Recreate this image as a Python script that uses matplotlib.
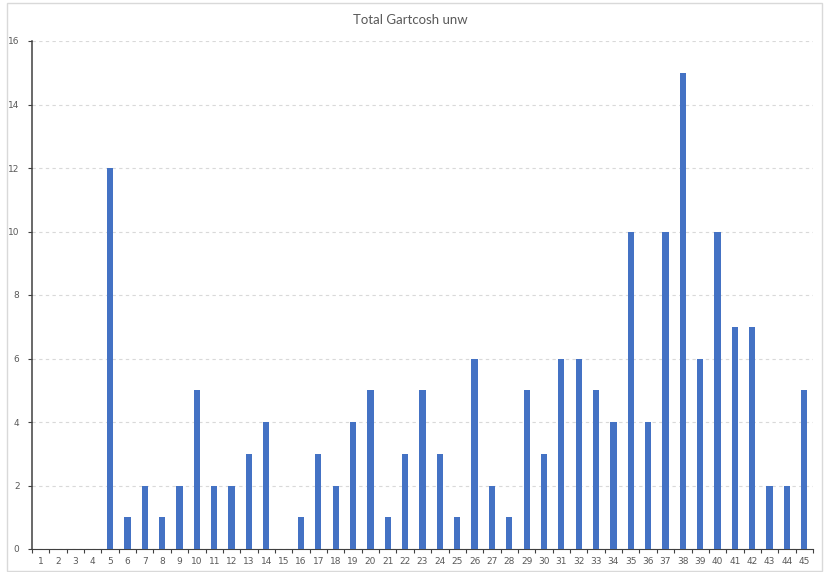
import numpy as np
import matplotlib.pyplot as plt
from matplotlib.patches import Rectangle

categories = [str(i) for i in range(1, 46)]
values = [0, 0, 0, 0, 12, 1, 2, 1, 2, 5,
          2, 2, 3, 4, 0, 1, 3, 2, 4, 5,
          1, 3, 5, 3, 1, 6, 2, 1, 5, 3,
          6, 6, 5, 4, 10, 4, 10, 15, 6, 10,
          7, 7, 2, 2, 5]
title = "Total Gartcosh unw"

fig = plt.figure(figsize=(8.24, 5.72), dpi=100)
ax = fig.add_axes([32/824, 1 - 549/572, (813-32)/824, (549-41)/572])

# light frame around the chart, like the excel chart area
fig.patches.append(Rectangle((7/824, 0.002), (822-7)/824, 1 - 3/572 - 0.002,
                             transform=fig.transFigure, fill=False,
                             edgecolor="#d9d9d9", linewidth=1))

x = np.arange(len(categories))
ax.bar(x, values, width=0.36, color="#4472c4", zorder=3)

ax.set_xlim(-0.5, len(categories) - 0.5)
ax.set_ylim(0, 16)
ax.set_yticks(range(0, 17, 2))
ax.yaxis.grid(True, linestyle=(0, (3, 3)), color="#d9d9d9", linewidth=0.8, zorder=0)

ax.set_xticks(x)
ax.set_xticklabels(categories)
ax.set_xticks(np.arange(-0.5, len(categories), 1), minor=True)
ax.tick_params(axis="x", which="major", length=0, labelsize=6.5, labelcolor="#595959", pad=6)
ax.tick_params(axis="x", which="minor", length=3, width=0.8, color="#404040", direction="out")
ax.tick_params(axis="y", length=3, width=0.8, color="#404040", labelsize=6.5, labelcolor="#595959", pad=6)

for s in ["top", "right"]:
    ax.spines[s].set_visible(False)
ax.spines["left"].set_color("#404040")
ax.spines["left"].set_linewidth(1.1)
ax.spines["bottom"].set_color("#404040")

fig.text(0.498, 1 - 20/572, title, ha="center", va="center", fontsize=9.5,
         color="#595959", family=["Lato", "DejaVu Sans"])

fig.savefig("out.png", dpi=100)
